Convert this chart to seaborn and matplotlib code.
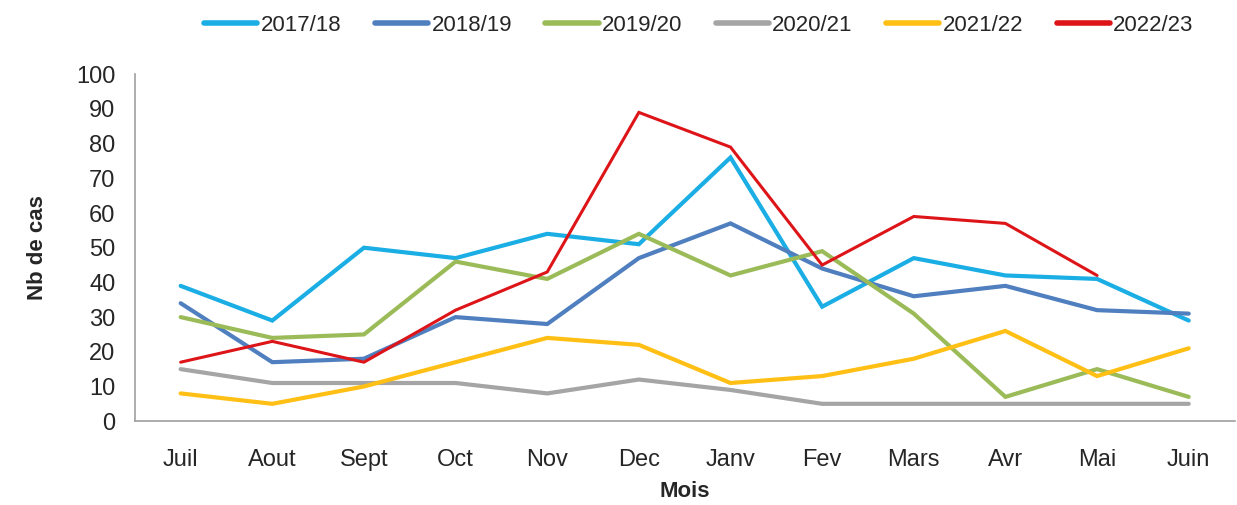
import numpy as np
import pandas as pd
import matplotlib
matplotlib.use("Agg")
import matplotlib.pyplot as plt
import seaborn as sns

# data
months = ["Juil", "Aout", "Sept", "Oct", "Nov", "Dec", "Janv", "Fev", "Mars", "Avr", "Mai", "Juin"]
seasons = ["2017/18", "2018/19", "2019/20", "2020/21", "2021/22", "2022/23"]
s2017 = [39, 29, 50, 47, 54, 51, 76, 33, 47, 42, 41, 29]
s2018 = [34, 17, 18, 30, 28, 47, 57, 44, 36, 39, 32, 31]
s2019 = [30, 24, 25, 46, 41, 54, 42, 49, 31, 7, 15, 7]
s2020 = [15, 11, 11, 11, 8, 12, 9, 5, 5, 5, 5, 5]
s2021 = [8, 5, 10, 17, 24, 22, 11, 13, 18, 26, 13, 21]
s2022 = [17, 23, 17, 32, 43, 89, 79, 45, 59, 57, 42, np.nan]
colors = ["#1aaee5", "#4f7fbf", "#9bbb59", "#a5a5a5", "#ffbf14", "#dd1418"]
widths = [3.0, 3.0, 3.0, 3.0, 3.0, 2.2]

rows = []
for name, vals in zip(seasons, [s2017, s2018, s2019, s2020, s2021, s2022]):
    for i, v in enumerate(vals):
        if not np.isnan(v):
            rows.append({"idx": i, "cas": v, "saison": name})
df = pd.DataFrame(rows)

sns.set_style("white")
plt.rcParams['font.family'] = ['Liberation Sans', 'DejaVu Sans']

fig = plt.figure(figsize=(12.37, 5.05), dpi=100)
ax = fig.add_axes([0.109, 0.166, 0.889, 0.687])

sns.lineplot(data=df, x="idx", y="cas", hue="saison", hue_order=seasons,
             palette=colors, ax=ax, legend=False, sort=False)
for line, w in zip(ax.get_lines(), widths):
    line.set_linewidth(w)
    line.set_solid_joinstyle("miter")

ax.set_xlim(-0.5, 11.5)
ax.set_ylim(0, 100)
ax.set_yticks(range(0, 101, 10))
ax.set_xticks(range(12))
ax.set_xticklabels(months)
ax.set_xticks(np.arange(-0.5, 12, 1), minor=True)
ax.tick_params(axis="x", which="major", length=0, labelsize=17, pad=20)
ax.tick_params(axis="x", which="minor", length=6, color="#a0a0a0", direction="out")
ax.tick_params(axis="y", length=6, color="#a0a0a0", direction="out", labelsize=17, pad=8)
for s in ["top", "right"]:
    ax.spines[s].set_visible(False)
for s in ["left", "bottom"]:
    ax.spines[s].set_color("#a0a0a0")
    ax.spines[s].set_linewidth(1.2)

ax.set_xlabel("Mois", fontsize=16, fontweight="bold", labelpad=7)
ax.set_ylabel("Nb de cas", fontsize=16, fontweight="bold", labelpad=20)

handles = [plt.Line2D([], [], color=c, lw=4) for c in colors]
fig.legend(handles, seasons, loc="upper center", bbox_to_anchor=(0.565, 1.01), ncol=6,
           frameon=False, fontsize=16, handlelength=2.4, handletextpad=0.15, columnspacing=1.5)

fig.savefig("out.png", dpi=100)
